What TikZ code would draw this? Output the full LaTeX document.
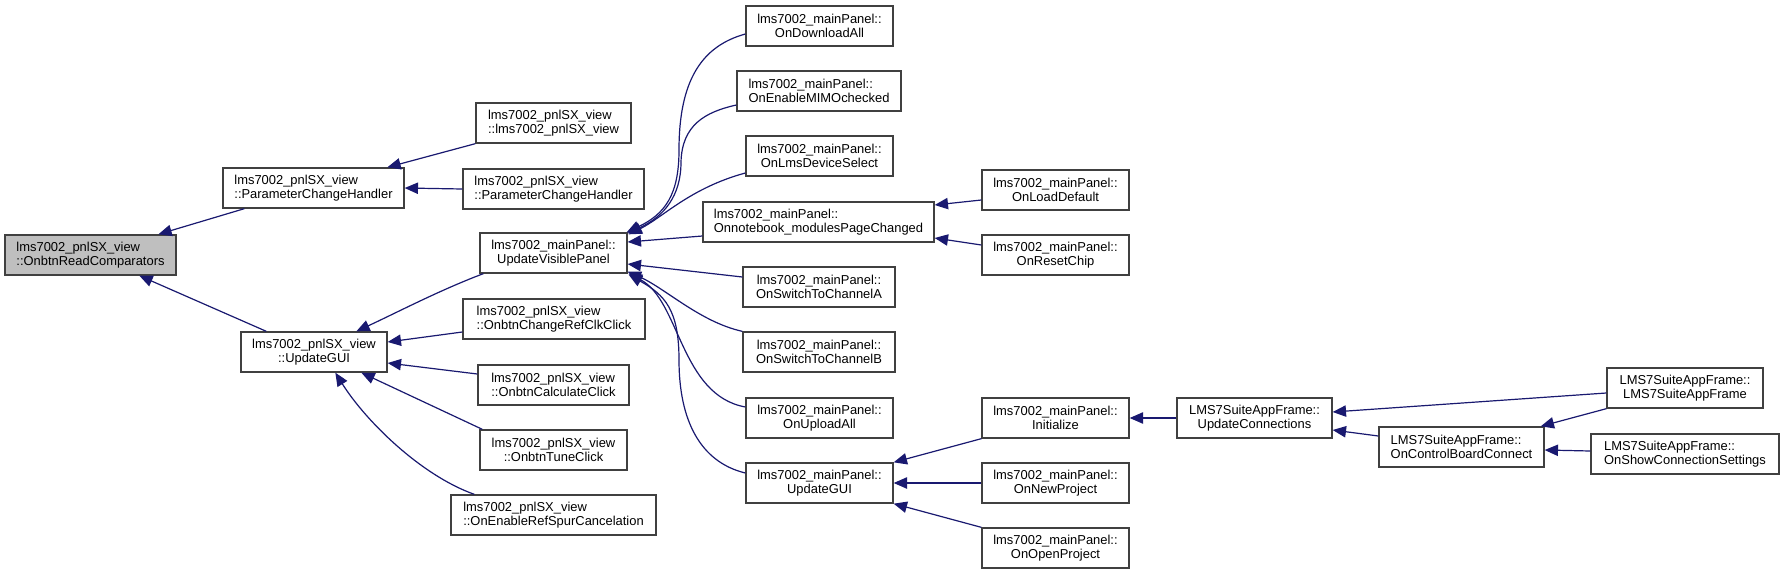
\documentclass[tikz,border=0pt]{standalone}
\usepackage{fontspec}
\setmainfont{Liberation Sans}
\usetikzlibrary{arrows.meta,calc}
\definecolor{edgecol}{HTML}{191970}
\definecolor{bordercol}{HTML}{404040}
\definecolor{rootfill}{HTML}{BFBFBF}
\newcommand\mkbox[7]{\node[nbox,#6,minimum width={(#4-#2)*0.75pt},minimum height={(#5-#3)*0.75pt}] (#1) at ({(#2+#4)/2},{(#3+#5)/2}) {#7};}
\begin{document}
\begin{tikzpicture}[x=0.75pt,y=-0.75pt,
  nbox/.style={draw=bordercol,line width=1pt,fill=white,inner sep=0pt,font=\fontsize{9.7}{11}\selectfont,text=black},
  conn/.style={draw=edgecol,line width=0.9pt,{Triangle[length=10pt,width=8.5pt]}-}]
\fill[white] (0,0) rectangle (1784,575);
\useasboundingbox (0,0) rectangle (1784,575);
% nodes
\mkbox{root}{5}{235}{176}{275}{align=left,fill=rootfill}{lms7002\_pnlSX\_view\\::OnbtnReadComparators}
\mkbox{pCH}{223}{168}{404}{208}{align=left}{lms7002\_pnlSX\_view\\::ParameterChangeHandler}
\mkbox{sxGUI}{241}{332}{387}{372}{align=center}{lms7002\_pnlSX\_view\\::UpdateGUI}
\mkbox{sxCtor}{476}{103}{631}{143}{align=left}{lms7002\_pnlSX\_view\\::lms7002\_pnlSX\_view}
\mkbox{pCHtwo}{463}{169}{644}{209}{align=left}{lms7002\_pnlSX\_view\\::ParameterChangeHandler}
\mkbox{UVP}{480}{233}{627}{273}{align=center}{lms7002\_mainPanel::\\UpdateVisiblePanel}
\mkbox{ChangeRef}{463}{299}{645}{339}{align=left}{lms7002\_pnlSX\_view\\::OnbtnChangeRefClkClick}
\mkbox{Calc}{478}{365}{629}{405}{align=left}{lms7002\_pnlSX\_view\\::OnbtnCalculateClick}
\mkbox{Tune}{480}{430}{627}{470}{align=center}{lms7002\_pnlSX\_view\\::OnbtnTuneClick}
\mkbox{Spur}{451}{495}{656}{535}{align=left}{lms7002\_pnlSX\_view\\::OnEnableRefSpurCancelation}
\mkbox{DL}{746}{6}{893}{46}{align=center}{lms7002\_mainPanel::\\OnDownloadAll}
\mkbox{MIMO}{737}{71}{901}{111}{align=left}{lms7002\_mainPanel::\\OnEnableMIMOchecked}
\mkbox{LmsDev}{746}{136}{893}{176}{align=center}{lms7002\_mainPanel::\\OnLmsDeviceSelect}
\mkbox{NB}{703}{202}{934}{242}{align=left}{lms7002\_mainPanel::\\Onnotebook\_modulesPageChanged}
\mkbox{ChA}{743}{267}{895}{307}{align=center}{lms7002\_mainPanel::\\OnSwitchToChannelA}
\mkbox{ChB}{743}{332}{895}{372}{align=center}{lms7002\_mainPanel::\\OnSwitchToChannelB}
\mkbox{Upl}{746}{398}{893}{438}{align=center}{lms7002\_mainPanel::\\OnUploadAll}
\mkbox{MUG}{746}{463}{893}{503}{align=center}{lms7002\_mainPanel::\\UpdateGUI}
\mkbox{LoadDef}{982}{170}{1129}{210}{align=center}{lms7002\_mainPanel::\\OnLoadDefault}
\mkbox{Reset}{982}{235}{1129}{275}{align=center}{lms7002\_mainPanel::\\OnResetChip}
\mkbox{Init}{982}{398}{1129}{438}{align=center}{lms7002\_mainPanel::\\Initialize}
\mkbox{NewP}{982}{463}{1129}{503}{align=center}{lms7002\_mainPanel::\\OnNewProject}
\mkbox{OpenP}{982}{528}{1129}{568}{align=center}{lms7002\_mainPanel::\\OnOpenProject}
\mkbox{UpdConn}{1177}{398}{1332}{438}{align=center}{LMS7SuiteAppFrame::\\UpdateConnections}
\mkbox{AppFrame}{1607}{368}{1763}{408}{align=center}{LMS7SuiteAppFrame::\\LMS7SuiteAppFrame}
\mkbox{CBC}{1379}{427}{1544}{467}{align=left}{LMS7SuiteAppFrame::\\OnControlBoardConnect}
\mkbox{ShowConn}{1591}{434}{1779}{474}{align=left}{LMS7SuiteAppFrame::\\OnShowConnectionSettings}
% connectors
\draw[conn] ($(root.north west)+(154,0)$) -- ($(pCH.south west)+(22,0)$);
\draw[conn] ($(root.south west)+(135,0)$) -- ($(sxGUI.north west)+(26,0)$);
\draw[conn] ($(pCH.north west)+(165,0)$) -- (sxCtor.south west);
\draw[conn] (pCH.east) -- (pCHtwo.west);
\draw[conn] ($(sxGUI.north west)+(116,0)$) .. controls (398,312) and (440,290) .. ($(UVP.south west)+(4,0)$);
\draw[conn] ($(sxGUI.east)+(0,-10)$) -- ($(ChangeRef.west)+(0,13)$);
\draw[conn] ($(sxGUI.east)+(0,11)$) -- ($(Calc.west)+(0,-11)$);
\draw[conn] ($(sxGUI.south west)+(121,0)$) -- ($(Tune.north west)+(3,0)$);
\draw[conn] ($(sxGUI.south west)+(95,0)$) .. controls (365,420) and (420,475) .. ($(Spur.north west)+(24,0)$);
\draw[conn] ($(UVP.north east)+(-1,0)$) .. controls (665,214) and (679,195) .. (679,150) .. controls (679,80) and (702,46) .. ($(DL.west)+(0,8)$);
\draw[conn] ($(UVP.north east)+(0,1)$) .. controls (665,216) and (681,195) .. (681,162) .. controls (682,125) and (705,112) .. ($(MIMO.west)+(0,14)$);
\draw[conn] ($(UVP.north east)+(1,2)$) .. controls (662,218) and (690,188) .. ($(LmsDev.west)+(0,17)$);
\draw[conn] ($(UVP.east)+(0,-11)$) -- ($(NB.west)+(0,14)$);
\draw[conn] ($(UVP.east)+(0,11)$) -- ($(ChA.west)+(0,-10)$);
\draw[conn] ($(UVP.south east)+(0,-2)$) .. controls (665,288) and (700,322) .. (ChB.north west);
\draw[conn] ($(UVP.south east)+(1,0)$) .. controls (680,300) and (680,395) .. ($(Upl.west)+(0,-11)$);
\draw[conn] ($(UVP.south east)+(1,1)$) .. controls (665,295) and (679,310) .. (679,360) .. controls (679,420) and (700,462) .. ($(MUG.west)+(0,-10)$);
\draw[conn] ($(NB.east)+(0,-17)$) -- ($(LoadDef.west)+(0,10)$);
\draw[conn] ($(NB.east)+(0,16)$) -- ($(Reset.west)+(0,-10)$);
\draw[conn] (MUG.north east) -- (Init.south west);
\draw[conn] (MUG.east) -- (NewP.west);
\draw[conn] (MUG.south east) -- (OpenP.north west);
\draw[conn] (Init.east) -- (UpdConn.west);
\draw[conn] ($(UpdConn.east)+(0,-6)$) -- ($(AppFrame.west)+(0,5)$);
\draw[conn] ($(UpdConn.east)+(0,12)$) -- ($(CBC.west)+(0,-11)$);
\draw[conn] ($(CBC.north east)+(-4,0)$) -- (AppFrame.south west);
\draw[conn] ($(CBC.east)+(0,3)$) -- ($(ShowConn.west)+(0,-3)$);
\end{tikzpicture}
\end{document}
